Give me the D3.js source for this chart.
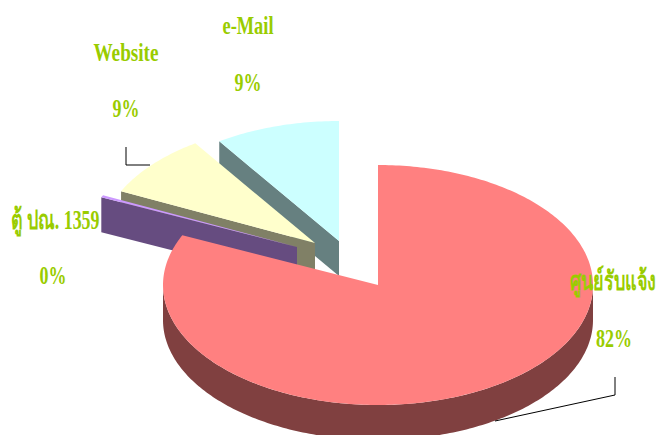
<!DOCTYPE html>
<html>
<head>
<meta charset="utf-8">
<script src="https://cdn.jsdelivr.net/npm/d3@7"></script>
<style>
  html, body { margin: 0; padding: 0; background: #fff; }
  svg { display: block; }
  text { font-family: "Liberation Serif", "Noto Sans", serif; font-weight: bold; fill: #99cc00; }
</style>
</head>
<body>
<svg id="chart" width="659" height="435"></svg>
<script>
// Slices, clockwise from 12 o'clock
const categories = ['ศูนย์รับแจ้ง', 'ตู้ ปณ. 1359', 'Website', 'e-Mail'];
const values = [81.8, 0.3, 8.5, 9.4];

// Layout and colours, per slice
const topColors = ['#ff8080', '#cc99ff', '#ffffcc', '#ccffff'];
const sideColors = ['#804040', '#664c80', '#808066', '#668080'];
const explode = [[0, 0], [-81, -38], [-63, -42], [-39, -44]];
const labelPos = [
  { x: 614, nameX: 613, name: 290, pct: 347, width: 86, size: 27, pctWidth: 36 },
  { x: 53, nameX: 55, name: 229, pct: 284, width: 89, size: 27, pctWidth: 27 },
  { x: 126, nameX: 126, name: 61, pct: 117, width: 65, size: 25, pctWidth: 27 },
  { x: 248, nameX: 248, name: 34, pct: 91, width: 51, size: 25, pctWidth: 27 }
];
const leaders = [
  [[615, 377], [615, 395], [495, 421]],
  [[126, 147], [126, 165], [150, 165]]
];

const cx = 378, cy = 285, rx = 215, ry = 120, depth = 35;

const svg = d3.select('#chart');
const line = d3.line();
const rim = a => [rx * Math.sin(a), -ry * Math.cos(a)];
const samples = (a0, a1) => {
  const n = Math.max(2, Math.ceil((a1 - a0) * 60));
  return d3.range(n + 1).map(i => a0 + (a1 - a0) * i / n);
};

const arcs = d3.pie().sort(null).value(d => d)(values);

// Painted back to front, the big slice last
[3, 2, 1, 0].forEach(i => {
  const d = arcs[i];
  const g = svg.append('g')
    .attr('transform', `translate(${cx + explode[i][0]},${cy + explode[i][1]})`);
  const start = rim(d.startAngle);

  // cut face on the left side of the wedge
  if (i > 0) {
    g.append('path')
      .attr('d', line([start, [0, 0], [0, depth], [start[0], start[1] + depth]]) + 'Z')
      .attr('fill', sideColors[i]);
  }

  // outer wall, only the front half of the ellipse shows
  const a0 = Math.max(d.startAngle, Math.PI / 2);
  const a1 = Math.min(d.endAngle, Math.PI * 1.5);
  if (a1 > a0) {
    const front = samples(a0, a1).map(rim);
    const back = front.map(p => [p[0], p[1] + depth]).reverse();
    g.append('path')
      .attr('d', line(front.concat(back)) + 'Z')
      .attr('fill', sideColors[i]);
  }

  // top face
  const top = samples(d.startAngle, d.endAngle).map(rim);
  g.append('path')
    .attr('d', line([[0, 0]].concat(top)) + 'Z')
    .attr('fill', topColors[i]);
});

// Leader lines
svg.selectAll('path.leader')
  .data(leaders)
  .join('path')
  .attr('class', 'leader')
  .attr('d', d => line(d))
  .attr('fill', 'none')
  .attr('stroke', '#000')
  .attr('stroke-width', 1);

// Labels, tall and narrow like the original
const total = d3.sum(values);
const pct = d3.format('.0%');
categories.forEach((name, i) => {
  const p = labelPos[i];
  svg.append('text')
    .attr('x', p.nameX)
    .attr('y', p.name)
    .attr('text-anchor', 'middle')
    .attr('font-size', p.size)
    .attr('textLength', p.width)
    .attr('lengthAdjust', 'spacingAndGlyphs')
    .text(name);
  svg.append('text')
    .attr('x', p.x)
    .attr('y', p.pct)
    .attr('text-anchor', 'middle')
    .attr('font-size', 25)
    .attr('textLength', p.pctWidth)
    .attr('lengthAdjust', 'spacingAndGlyphs')
    .text(pct(values[i] / total));
});
</script>
</body>
</html>
